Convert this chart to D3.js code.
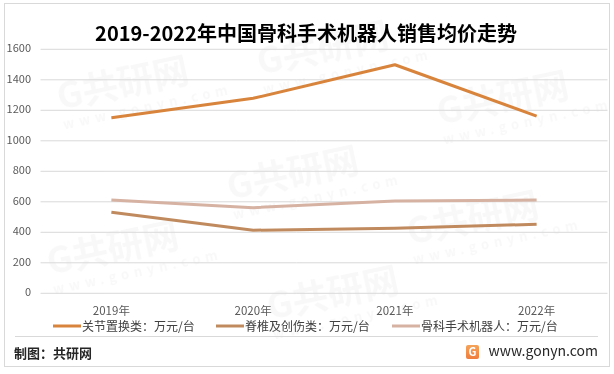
<!DOCTYPE html>
<html lang="zh">
<head>
<meta charset="UTF-8">
<title>2019-2022年中国骨科手术机器人销售均价走势</title>
<script src="https://d3js.org/d3.v7.min.js"></script>
<style>
  body { margin: 0; background: #fff; font-family: "Noto Sans CJK SC", "Noto Sans", sans-serif; }
  svg text { font-family: "Noto Sans CJK SC", "Noto Sans", sans-serif; }
  .grid line { stroke: #d9d9d9; stroke-width: 1; }
  .grid .domain { display: none; }
</style>
</head>
<body>
<div id="chart"></div>
<script>
// 数据
const years = ["2019年", "2020年", "2021年", "2022年"];
const jointValues = [1145, 1272, 1492, 1155];   // 关节置换类
const spineValues = [525, 407, 420, 446];       // 脊椎及创伤类
const allValues = [605, 555, 598, 605];         // 骨科手术机器人
const yTicks = [0, 200, 400, 600, 800, 1000, 1200, 1400, 1600];

const series = [
  { name: "关节置换类：万元/台", values: jointValues, color: "#d8843c" },
  { name: "脊椎及创伤类：万元/台", values: spineValues, color: "#c08a5e" },
  { name: "骨科手术机器人：万元/台", values: allValues, color: "#d6b2a3" }
];

const W = 614, H = 374;
const svg = d3.select("#chart").append("svg")
  .attr("width", W).attr("height", H);

// 外框
svg.append("rect")
  .attr("x", 4.5).attr("y", 3.5)
  .attr("width", 605).attr("height", 363)
  .attr("fill", "#fff").attr("stroke", "#d9d9d9");

// 水印
const wm = svg.append("g").attr("fill", "#000").attr("opacity", 0.03)
  .attr("font-weight", "bold");
[[60, 110], [260, 75], [440, 125], [230, 200], [410, 245], [50, 275], [270, 320]].forEach(([x, y]) => {
  const g = wm.append("g").attr("transform", `translate(${x},${y}) rotate(-12)`);
  g.append("text").attr("font-size", 36).text("G共研网");
  g.append("text").attr("y", 20).attr("font-size", 13).attr("letter-spacing", 5).text("www.gonyn.com");
});

// 标题
svg.append("text")
  .attr("x", 306).attr("y", 41)
  .attr("text-anchor", "middle")
  .attr("font-size", 20).attr("font-weight", "bold").attr("fill", "#000")
  .text("2019-2022年中国骨科手术机器人销售均价走势");

const x = d3.scaleBand().domain(years).range([40.5, 607.5]);
const y = d3.scaleLinear().domain([0, 1600]).range([292.3, 48.3]);

// 网格线
svg.append("g").attr("class", "grid")
  .attr("transform", "translate(40.5,0)")
  .call(d3.axisLeft(y).tickValues(yTicks).tickSize(-567).tickFormat(""))
  .selectAll("line").attr("transform", "translate(0,0.5)");

// Y轴标签
svg.append("g").selectAll("text").data(yTicks).join("text")
  .attr("x", 31).attr("y", d => y(d) + 4)
  .attr("text-anchor", "end")
  .attr("font-size", 11).attr("fill", "#595959")
  .text(d => d);

// X轴标签
svg.append("g").selectAll("text").data(years).join("text")
  .attr("x", d => x(d) + x.bandwidth() / 2).attr("y", 315)
  .attr("text-anchor", "middle")
  .attr("font-size", 11.5).attr("fill", "#595959")
  .text(d => d);

// 折线
const line = d3.line()
  .x((d, i) => x(years[i]) + x.bandwidth() / 2)
  .y(d => y(d));

svg.append("g").selectAll("path").data(series).join("path")
  .attr("d", d => line(d.values))
  .attr("fill", "none")
  .attr("stroke", d => d.color)
  .attr("stroke-width", 3)
  .attr("stroke-linejoin", "round");

// 图例
const legendX = [53, 216, 392];
const legend = svg.append("g").selectAll("g").data(series).join("g")
  .attr("transform", (d, i) => `translate(${legendX[i]},326)`);
legend.append("line")
  .attr("x1", 0).attr("x2", 28)
  .attr("stroke", d => d.color).attr("stroke-width", 3);
legend.append("text")
  .attr("x", 29).attr("y", 4.5)
  .attr("font-size", 12).attr("fill", "#404040")
  .text(d => d.name);

// 底部分隔线
svg.append("line")
  .attr("x1", 15).attr("x2", 598)
  .attr("y1", 336.5).attr("y2", 336.5)
  .attr("stroke", "#d9d9d9");

svg.append("text")
  .attr("x", 14).attr("y", 358)
  .attr("font-size", 13).attr("font-weight", "bold").attr("fill", "#262626")
  .text("制图：共研网");

// logo
const defs = svg.append("defs");
const grad = defs.append("linearGradient").attr("id", "lg").attr("x1", 0).attr("y1", 0).attr("x2", 0).attr("y2", 1);
grad.append("stop").attr("offset", 0).attr("stop-color", "#f5a35a");
grad.append("stop").attr("offset", 1).attr("stop-color", "#ef7d3c");
svg.append("rect")
  .attr("x", 466).attr("y", 345).attr("width", 13).attr("height", 14).attr("rx", 2)
  .attr("fill", "url(#lg)");
svg.append("text")
  .attr("x", 472.5).attr("y", 356)
  .attr("text-anchor", "middle")
  .attr("font-size", 11).attr("font-weight", "bold").attr("fill", "#fff")
  .text("G");

svg.append("text")
  .attr("x", 598).attr("y", 356)
  .attr("text-anchor", "end")
  .attr("font-size", 14).attr("fill", "#262626")
  .text("www.gonyn.com");
</script>
</body>
</html>
